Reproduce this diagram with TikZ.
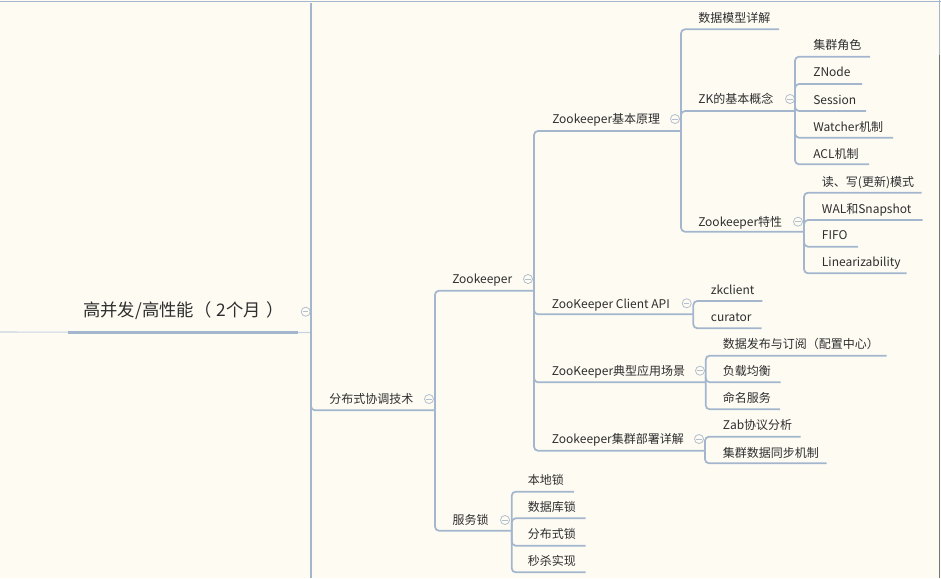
\documentclass[tikz,border=0pt]{standalone}
\usepackage{fontspec}
\setmainfont{Noto Sans CJK SC}
\definecolor{bg}{HTML}{FEFBF3}
\definecolor{ln}{HTML}{A3B6CE}
\definecolor{lnl}{HTML}{C9D4E2}
\definecolor{txt}{HTML}{2E2E2E}
\definecolor{fc}{HTML}{B3BFCE}
\definecolor{edge}{HTML}{6E7880}
\begin{document}
\begin{tikzpicture}[x=0.75pt,y=-0.75pt,
  topic/.style={anchor=west, inner sep=0pt, font=\fontsize{9}{10}\selectfont, text=txt, text height=0.85em, text depth=0.12em},
  roottopic/.style={topic, font=\fontsize{13}{15}\selectfont},
  branch/.style={draw=ln, line width=1.3pt, rounded corners=3pt},
  fold/.style={circle, draw=fc, line width=0.6pt, minimum size=6.8pt, inner sep=0pt,
    path picture={\draw[fc, line width=0.6pt] ([xshift=-1.9pt]path picture bounding box.center) -- ([xshift=1.9pt]path picture bounding box.center);}}]
\useasboundingbox (0,0) rectangle (941,578);
\fill[bg] (0,0) rectangle (941,578);
% frame lines
\draw[ln, line width=1.3pt] (0,1.5) -- (941,1.5);
\draw[edge, line width=1.1pt] (939.5,55) -- (939.5,578);
\draw[ln, line width=1.1pt] (939.5,0) -- (939.5,55);

% root
\node[roottopic] (root) at (83,312) {高并发/高性能（\hspace{0.3em}2个月\hspace{0.3em}）};
\node[fold] (rootf) at (305.7,311.7) {};
\coordinate (root-e) at (311,332.5);
\coordinate (vtop) at (311,3);
\coordinate (vbot) at (311,578);
\coordinate (rootl) at (0,332);
\coordinate (rootul1) at (68,332.7);
\coordinate (rootul2) at (298,332.7);
\draw[lnl, line width=0.8pt] (rootl) -- (root-e);
\draw[ln, line width=2.3pt] (rootul1) -- (rootul2);
\draw[ln, line width=1.3pt] (vtop) -- (vbot);

% level 1
\node[topic] (fb) at (329,399) {分布式协调技术};
\node[fold] (fbf) at (429,399) {};
\coordinate (fb-e) at (435,410.3);

% level 2
\node[topic] (zk) at (452,279) {Zookeeper};
\node[fold] (zkf) at (528,279) {};
\coordinate (zk-e) at (534,290.7);
\node[topic] (fw) at (452.3,520) {服务锁};
\node[fold] (fwf) at (505,520) {};
\coordinate (fw-e) at (511.7,530.7);

% level 3 under Zookeeper
\node[topic] (yl) at (552,119) {Zookeeper基本原理};
\node[fold] (ylf) at (675,119) {};
\coordinate (yl-e) at (681,131);
\node[topic] (api) at (551.7,303.3) {ZooKeeper Client API};
\node[fold] (apif) at (686.7,303.3) {};
\coordinate (api-e) at (693.3,314.3);
\node[topic] (cj) at (551.7,370.7) {ZooKeeper典型应用场景};
\node[fold] (cjf) at (700,370.7) {};
\coordinate (cj-e) at (705.7,382.3);
\node[topic] (bs) at (551.7,439) {Zookeeper集群部署详解};
\node[fold] (bsf) at (699,439) {};
\coordinate (bs-e) at (705,450.7);

% under 基本原理
\node[topic] (sj) at (698,18) {数据模型详解};
\coordinate (sj-e) at (779,29.3);
\node[topic] (gn) at (698,99) {ZK的基本概念};
\node[fold] (gnf) at (790,99) {};
\coordinate (gn-e) at (795,111);
\node[topic] (tx) at (698,221.7) {Zookeeper特性};
\node[fold] (txf) at (798,221.7) {};
\coordinate (tx-e) at (804,231.7);

% under ZK的基本概念
\node[topic] (jq) at (813,45) {集群角色};
\coordinate (jq-e) at (870,56.7);
\node[topic] (zn) at (813,72) {ZNode};
\coordinate (zn-e) at (862,84);
\node[topic] (ss) at (813,99.3) {Session};
\coordinate (ss-e) at (866,111);
\node[topic] (wt) at (813,126.7) {Watcher机制};
\coordinate (wt-e) at (893,137.7);
\node[topic] (acl) at (813,154) {ACL机制};
\coordinate (acl-e) at (869,164.3);

% under 特性
\node[topic] (dx) at (821.7,181.7) {读、写(更新)模式};
\coordinate (dx-e) at (921.7,192.7);
\node[topic] (wal) at (821.7,208.3) {WAL和Snapshot};
\coordinate (wal-e) at (922.7,220);
\node[topic] (fifo) at (821.7,235) {FIFO};
\coordinate (fifo-e) at (858,246.7);
\node[topic] (lin) at (821.7,261.7) {Linearizability};
\coordinate (lin-e) at (906.7,273.3);

% under Client API
\node[topic] (zkc) at (710.7,290) {zkclient};
\coordinate (zkc-e) at (762.3,301);
\node[topic] (cur) at (710.7,316.7) {curator};
\coordinate (cur-e) at (761.7,328.3);

% under 应用场景
\node[topic] (fb2) at (722.7,343.3) {数据发布与订阅（配置中心）};
\coordinate (fb2-e) at (886.7,355.7);
\node[topic] (fz) at (722.7,370.7) {负载均衡};
\coordinate (fz-e) at (780.7,382.3);
\node[topic] (mm) at (722.7,397.7) {命名服务};
\coordinate (mm-e) at (780,409.3);

% under 集群部署
\node[topic] (zab) at (722.7,425) {Zab协议分析};
\coordinate (zab-e) at (800.7,436.7);
\node[topic] (tb) at (722.7,452.7) {集群数据同步机制};
\coordinate (tb-e) at (826.7,463.3);

% under 服务锁
\node[topic] (bd) at (527.7,480) {本地锁};
\coordinate (bd-e) at (574,491.7);
\node[topic] (sjk) at (527.7,506.7) {数据库锁};
\coordinate (sjk-e) at (585.7,518.3);
\node[topic] (fbs) at (527.7,534) {分布式锁};
\coordinate (fbs-e) at (585.7,545.7);
\node[topic] (ms) at (527.7,560.7) {秒杀实现};
\coordinate (ms-e) at (585.7,572.3);

% connectors (each also draws the child's underline)
\draw[branch] (root-e) |- (fb-e);
\foreach \c in {zk,fw} \draw[branch] (fb-e) |- (\c-e);
\foreach \c in {yl,api,cj,bs} \draw[branch] (zk-e) |- (\c-e);
\foreach \c in {sj,gn,tx} \draw[branch] (yl-e) |- (\c-e);
\foreach \c in {jq,zn,ss,wt,acl} \draw[branch] (gn-e) |- (\c-e);
\foreach \c in {dx,wal,fifo,lin} \draw[branch] (tx-e) |- (\c-e);
\foreach \c in {zkc,cur} \draw[branch] (api-e) |- (\c-e);
\foreach \c in {fb2,fz,mm} \draw[branch] (cj-e) |- (\c-e);
\foreach \c in {zab,tb} \draw[branch] (bs-e) |- (\c-e);
\foreach \c in {bd,sjk,fbs,ms} \draw[branch] (fw-e) |- (\c-e);
\end{tikzpicture}
\end{document}
